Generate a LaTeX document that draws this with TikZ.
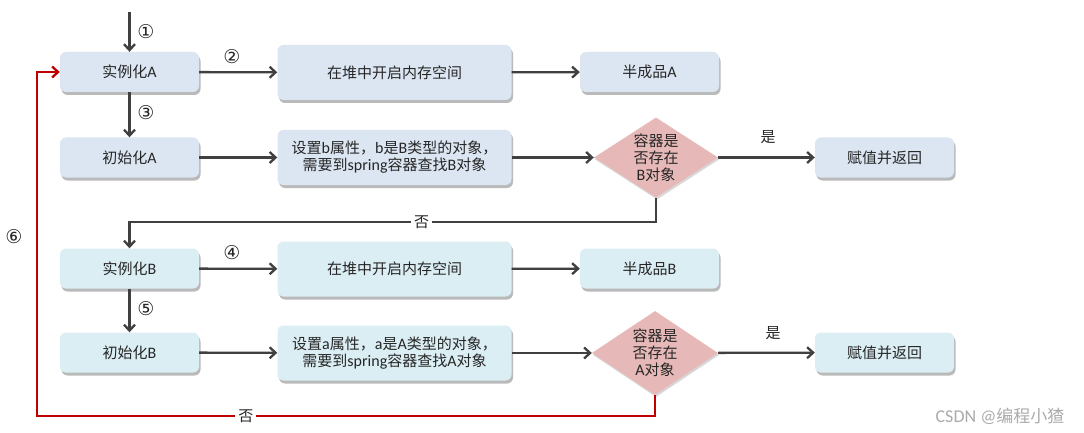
\documentclass[tikz,border=0pt]{standalone}
\usepackage{fontspec}
\newfontfamily\cjk{Noto Sans CJK SC}
\newfontfamily\lat{Carlito}
\newfontfamily\djvfont{DejaVu Sans}
\usetikzlibrary{shapes.geometric,shadows,arrows.meta}
\definecolor{boxA}{HTML}{DCE6F2}
\definecolor{boxB}{HTML}{DBEEF4}
\definecolor{dia}{HTML}{E6B9B8}
\definecolor{ln}{HTML}{404040}
\definecolor{rd}{HTML}{C00000}
\newcommand{\la}[1]{{\lat\fontsize{16}{17}\selectfont #1}}
\begin{document}
\begin{tikzpicture}[x=1pt,y=-1pt,
  every node/.style={font=\cjk\fontsize{15}{17}\selectfont, text=black!85},
  box/.style={rounded corners=6pt, inner sep=0pt, align=center, draw=none,
    minimum width=139pt, minimum height=40pt,
    drop shadow={shadow xshift=1.5pt, shadow yshift=-3pt, opacity=0.45, fill=black!60}},
  bigbox/.style={box, minimum width=234pt, minimum height=55pt},
  decide/.style={shape=diamond, fill=dia, inner sep=0pt, align=center, aspect=1.55,
    drop shadow={shadow xshift=1pt, shadow yshift=-2pt, opacity=0.3, fill=black!50}},
  arr/.style={draw=ln, line width=2.3pt, -{Straight Barb[length=6pt,width=11pt]}},
  rarr/.style={draw=rd, line width=2.3pt, -{Straight Barb[length=6pt,width=11pt]}},
  num/.style={font=\djvfont\fontsize{19}{20}\selectfont},
  lab/.style={font=\cjk\fontsize{15}{16}\selectfont}
]
\useasboundingbox (0,0) rectangle (1084,433);
\fill[white] (0,0) rectangle (1084,433);

% row A
\node[box, fill=boxA] (iA) at (129.5,72) {实例化\la{A}};
\node[bigbox, fill=boxA] (heapA) at (394.5,72.5) {在堆中开启内存空间};
\node[box, fill=boxA] (halfA) at (649.5,72) {半成品\la{A}};
\node[box, fill=boxA] (initA) at (129.5,157.5) {初始化\la{A}};
\node[bigbox, fill=boxA] (setB) at (394.5,157.5) {设置\la{b}属性，\la{b}是\la{B}类型的对象，\\需要到\la{spring}容器查找\la{B}对象};
\node[decide, minimum width=124pt, minimum height=80pt] (dA) at (656,157.5) {容器是\\否存在\\\la{B}对象};
\node[box, fill=boxA] (yesA) at (884.5,157.5) {赋值并返回};

% row B
\node[box, fill=boxB] (iB) at (129.5,268.5) {实例化\la{B}};
\node[bigbox, fill=boxB] (heapB) at (394.5,269) {在堆中开启内存空间};
\node[box, fill=boxB] (halfB) at (649.5,268.5) {半成品\la{B}};
\node[box, fill=boxB] (initB) at (129.5,352.5) {初始化\la{B}};
\node[bigbox, fill=boxB] (setA) at (394.5,353) {设置\la{a}属性，\la{a}是\la{A}类型的对象，\\需要到\la{spring}容器查找\la{A}对象};
\node[decide, minimum width=126pt, minimum height=84pt] (dB) at (655,353) {容器是\\否存在\\\la{A}对象};
\node[box, fill=boxB] (yesB) at (884.5,352.5) {赋值并返回};

% connectors row A
\coordinate (start) at (129.5,12);
\draw[arr] (start) -- (iA);
\node[num] (n1) at (146,32) {①};
\draw[arr] (iA) -- (heapA);
\node[num] (n2) at (232,57) {②};
\draw[arr] (heapA) -- (halfA);
\draw[arr] (iA) -- (initA);
\node[num] (n3) at (146,113) {③};
\draw[arr] (initA) -- (setB);
\draw[arr] (setB) -- (dA);
\draw[arr] (dA) -- (yesA);
\node[lab] (yA) at (768,137) {是};
\draw[arr] (dA.south) -- (dA.south |- 0,222)
  -- node[pos=0.445, fill=white, inner sep=3pt, lab] {否} (iB.north |- 0,222) -- (iB.north);

% connectors row B
\draw[arr] (iB) -- (heapB);
\node[num] (n4) at (232,253) {④};
\draw[arr] (heapB) -- (halfB);
\draw[arr] (iB) -- (initB);
\node[num] (n5) at (146,309) {⑤};
\draw[arr] (initB) -- (setA);
\draw[arr] (setA) -- (dB);
\draw[arr] (dB) -- (yesB);
\node[lab] (yB) at (773,333) {是};
\draw[rarr] (dB.south) -- (dB.south |- 0,416)
  -- node[pos=0.662, fill=white, inner sep=3pt, lab] {否} (37,416) |- (iA.west);
\node[num] (n6) at (14,237) {⑥};

% watermark
\node[font=\lat\fontsize{18}{19}\selectfont, text=black!33] (wm) at (1000,416) {CSDN @{\cjk\fontsize{17}{19}\selectfont 编程小猹}};
\end{tikzpicture}
\end{document}
